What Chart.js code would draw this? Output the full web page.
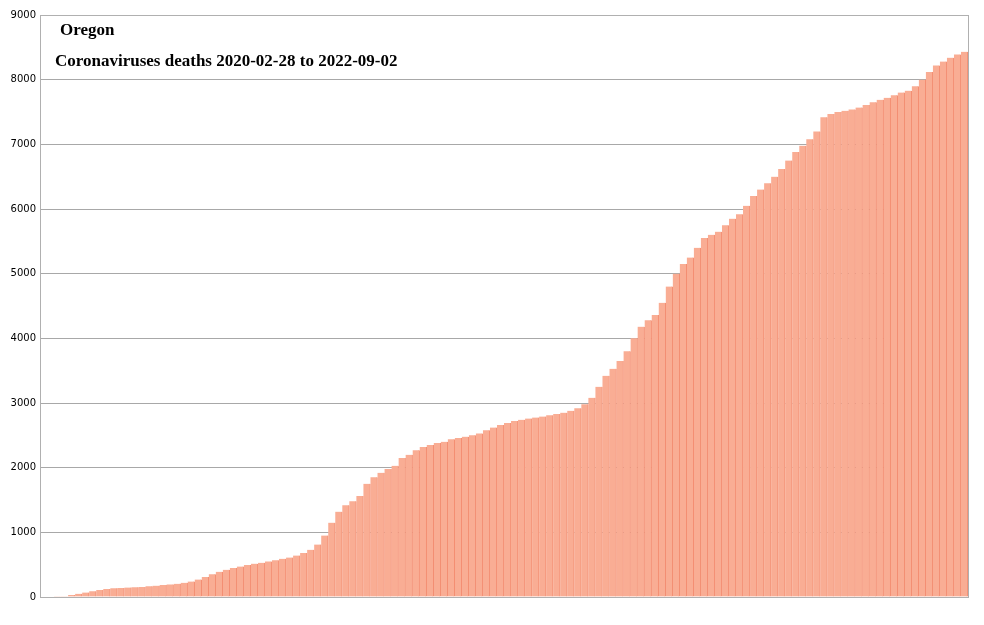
<!DOCTYPE html>
<html><head><meta charset="utf-8">
<script src="https://cdn.jsdelivr.net/npm/chart.js@4/dist/chart.umd.min.js"></script>
<style>html,body{margin:0;padding:0;background:#fff}#wrap{width:984px;height:625px}</style>
</head><body><div id="wrap"><canvas id="c"></canvas></div>
<script>
const titleLine1 = "Oregon";
const titleLine2 = "Coronaviruses deaths 2020-02-28 to 2022-09-02";
const yTicks = [0,1000,2000,3000,4000,5000,6000,7000,8000,9000];
const deaths = [0,0,2,10,30,50,70,90,110,125,135,140,145,150,155,165,175,185,195,205,
220,240,270,310,350,390,420,450,470,495,515,530,550,570,590,610,640,680,730,810,
950,1150,1320,1420,1480,1560,1750,1850,1920,1980,2030,2150,2200,2270,2320,2350,2380,2400,2440,2460,
2480,2500,2530,2580,2620,2660,2690,2720,2740,2760,2775,2790,2810,2830,2850,2880,2920,2980,3080,3250,
3420,3530,3650,3800,4000,4180,4280,4360,4550,4800,5000,5150,5250,5400,5550,5600,5650,5750,5850,5920,
6050,6200,6300,6400,6500,6620,6750,6880,6980,7080,7200,7420,7470,7500,7520,7540,7570,7610,7650,7690,
7720,7760,7800,7830,7900,8000,8120,8220,8280,8340,8390,8430];
const start = new Date(Date.UTC(2020,1,28));
const dates = deaths.map((_,i)=>{const d=new Date(start.getTime()+i*7*86400000);return d.toISOString().slice(0,10);});

const frame = {id:'frame', afterDraw(ch){const a=ch.chartArea,c=ch.ctx;c.save();c.strokeStyle='#b0b0b0';c.lineWidth=1;
 c.strokeRect(a.left+0.5,a.top+0.5,a.width,a.height);
 c.fillStyle='#000';c.font='bold 17px "Liberation Serif", "DejaVu Serif", serif';c.textBaseline='alphabetic';
 c.fillText(titleLine1,a.left+20,a.top+20);
 c.fillText(titleLine2,a.left+15,a.top+51);c.restore();}};

new Chart(document.getElementById('c'),{
 type:'bar',
 data:{labels:dates,datasets:[{data:deaths,backgroundColor:'#f9ad94',borderColor:'#f2876b',
  borderWidth:{left:0,right:1,top:0,bottom:0},barPercentage:1,categoryPercentage:1}]},
 options:{responsive:true,maintainAspectRatio:false,animation:false,
  layout:{padding:{left:0,right:16,top:15,bottom:20}},
  plugins:{legend:{display:false},tooltip:{enabled:false}},
  scales:{
   x:{ticks:{display:false},grid:{display:false},border:{color:'#b0b0b0'}},
   y:{min:0,max:9000,afterFit(s){s.width=40;},
      afterBuildTicks(s){s.ticks=yTicks.map(v=>({value:v}));},
      ticks:{color:'#000',font:{size:10,family:'"DejaVu Sans", sans-serif'},padding:4,callback:v=>String(v)},
      grid:{color:'#a8a8a8',drawTicks:false},border:{display:false}}
  }},
 plugins:[frame]
});
</script></body></html>
